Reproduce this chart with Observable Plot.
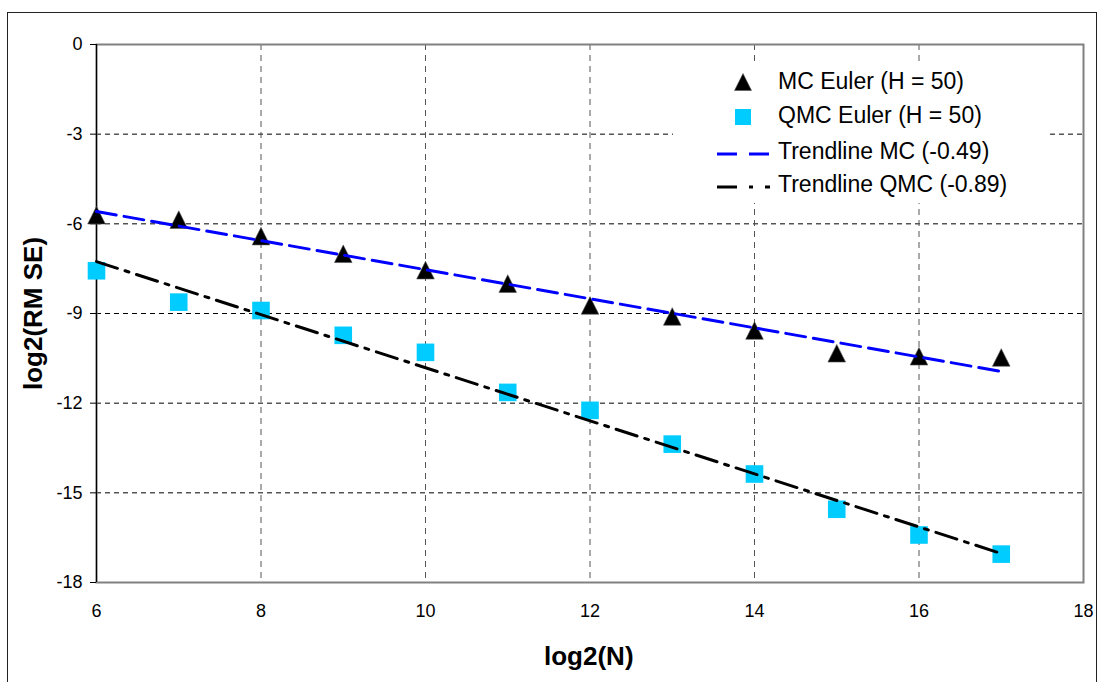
<!DOCTYPE html>
<html>
<head>
<meta charset="utf-8">
<script src="https://cdn.jsdelivr.net/npm/d3@7"></script>
<script src="https://cdn.jsdelivr.net/npm/@observablehq/plot@0.6"></script>
<style>
  html, body { margin: 0; padding: 0; background: #fff; }
  #wrap { position: relative; width: 1098px; height: 682px; overflow: hidden; background: #fff;
          font-family: "Liberation Sans", Arial, sans-serif; }
  #outer { position: absolute; left: 7px; top: 12px; width: 1088px; height: 700px;
           border: 1px solid #222; border-bottom: none; pointer-events: none; }
  #chart { position: absolute; left: 0; top: 0; }
  #legend { position: absolute; left: 673px; top: 61px; width: 375px; height: 142px; background: #fff; }
  .atitle { position: absolute; font-weight: bold; font-size: 26px; color: #000; white-space: nowrap; }
</style>
</head>
<body>
<div id="wrap">
  <div id="outer"></div>
  <div id="chart"></div>
  <div id="legend"></div>
  <div class="atitle" id="xtitle">log2(N)</div>
  <div class="atitle" id="ytitle">log2(RM SE)</div>
</div>
<script>
// ---- data ----
const log2N = [6, 7, 8, 9, 10, 11, 12, 13, 14, 15, 16, 17];
const mcEuler = [-5.71, -5.86, -6.41, -7.0, -7.55, -8.0, -8.73, -9.1, -9.57, -10.33, -10.43, -10.47];
const qmcEuler = [-7.57, -8.62, -8.9, -9.73, -10.3, -11.64, -12.24, -13.37, -14.37, -15.55, -16.41, -17.05];
const xTicks = [6, 8, 10, 12, 14, 16, 18];
const yTicks = [0, -3, -6, -9, -12, -15, -18];
const seriesNames = ["MC Euler (H = 50)", "QMC Euler (H = 50)", "Trendline MC (-0.49)", "Trendline QMC (-0.89)"];

const mc = log2N.map((x, i) => ({x, y: mcEuler[i]}));
const qmc = log2N.map((x, i) => ({x, y: qmcEuler[i]}));

const triUp = {
  draw(ctx, size) {
    const h = Math.sqrt(size / Math.PI);
    ctx.moveTo(0, -h); ctx.lineTo(h, h); ctx.lineTo(-h, h); ctx.closePath();
  }
};
const sq = {
  draw(ctx, size) {
    const h = Math.sqrt(size / Math.PI);
    ctx.moveTo(-h, -h); ctx.lineTo(h, -h); ctx.lineTo(h, h); ctx.lineTo(-h, h); ctx.closePath();
  }
};

const cyan = "#00CCFF";

const plot = Plot.plot({
  width: 1098,
  height: 682,
  marginLeft: 96,
  marginRight: 15,
  marginTop: 44,
  marginBottom: 100,
  style: {fontFamily: "'Liberation Sans', Arial, sans-serif", fontSize: "18px", color: "#000", background: "transparent"},
  x: {domain: [6, 18], label: null},
  y: {domain: [-18, 0], label: null},
  marks: [
    Plot.gridY(yTicks.filter(d => d !== 0 && d !== -18), {stroke: "#000", strokeOpacity: 1, strokeDasharray: "5,4"}),
    Plot.gridX(xTicks.filter(d => d !== 6 && d !== 18), {stroke: "#555", strokeOpacity: 1, strokeDasharray: "6,5"}),
    Plot.frame({stroke: "#808080", strokeWidth: 2}),
    Plot.ruleX([6], {stroke: "#000", strokeWidth: 1.2}),
    Plot.axisY({ticks: yTicks, tickSize: 6, tickPadding: 8, tickFormat: d => String(d), label: null, fontSize: 18}),
    Plot.axisX({ticks: xTicks, tickSize: 0, tickPadding: 22, tickFormat: d => String(d), label: null, fontSize: 18}),
    Plot.dot(qmc, {x: "x", y: "y", symbol: sq, r: 8.8, fill: cyan, stroke: "none"}),
    Plot.dot(mc, {x: "x", y: "y", symbol: triUp, r: 8.8, fill: "#000", stroke: "#555", strokeWidth: 0.6}),
    Plot.linearRegressionY(mc, {x: "x", y: "y", ci: 0, stroke: "#0000FF", strokeWidth: 3, strokeDasharray: "20,8"}),
    Plot.linearRegressionY(qmc, {x: "x", y: "y", ci: 0, stroke: "#000", strokeWidth: 3, strokeDasharray: "22,8,4,8"})
  ]
});
document.getElementById("chart").appendChild(plot);

// ---- legend ----
const lg = d3.select("#legend").append("svg").attr("width", 375).attr("height", 142)
  .style("font-family", "'Liberation Sans', Arial, sans-serif");
const textX = 105;
const baselines = [28, 62, 98, 131];
lg.append("path").attr("transform", "translate(70,21)")
  .attr("d", d3.symbol().type(triUp).size(8.5 * 8.5 * Math.PI)()).attr("fill", "#000").attr("stroke", "#555").attr("stroke-width", 0.6);
lg.append("path").attr("transform", "translate(70,56)")
  .attr("d", d3.symbol().type(sq).size(8 * 8 * Math.PI)()).attr("fill", cyan);
lg.append("line").attr("x1", 44).attr("x2", 97).attr("y1", 93).attr("y2", 93)
  .attr("stroke", "#0000FF").attr("stroke-width", 3).attr("stroke-dasharray", "20,12");
lg.append("line").attr("x1", 44).attr("x2", 97).attr("y1", 126).attr("y2", 126)
  .attr("stroke", "#000").attr("stroke-width", 3).attr("stroke-dasharray", "20,12,4,12");
seriesNames.forEach((name, i) => {
  lg.append("text").attr("x", textX).attr("y", baselines[i]).attr("font-size", 23).attr("fill", "#000").text(name);
});

// ---- axis titles ----
const xt = document.getElementById("xtitle");
xt.style.left = (589 - xt.offsetWidth / 2) + "px";
xt.style.top = (667 - 26 * 0.905 - 2) + "px";
const yt = document.getElementById("ytitle");
const w = yt.offsetWidth, h = yt.offsetHeight;
yt.style.left = (33 - w / 2) + "px";
yt.style.top = (313 - h / 2) + "px";
yt.style.transform = "rotate(-90deg)";
</script>
</body>
</html>
